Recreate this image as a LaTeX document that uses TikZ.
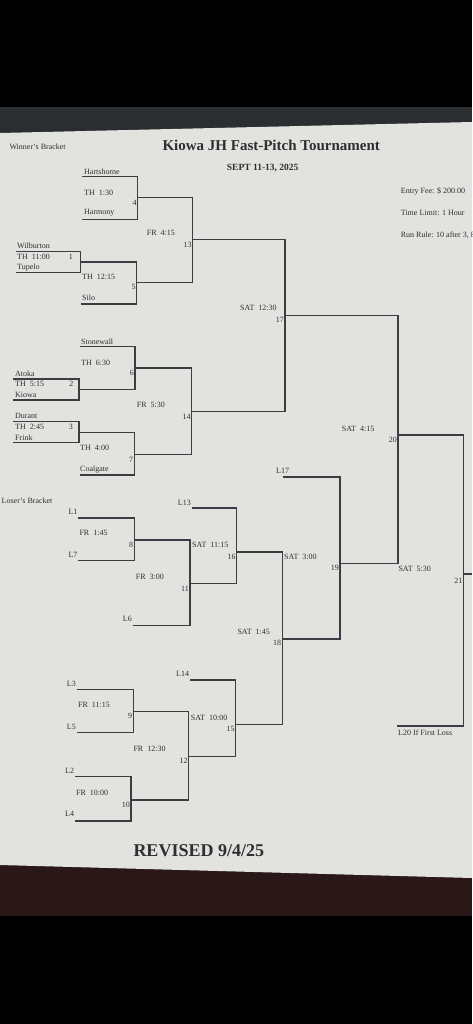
\documentclass[tikz,border=0pt]{standalone}
\usepackage{fontspec}
\setmainfont{Liberation Serif}
\definecolor{paperc}{HTML}{E2E3DE}
\definecolor{txtc}{HTML}{2E2E33}
\definecolor{linec}{HTML}{3C3C44}
\definecolor{stripc}{HTML}{2A2E30}
\definecolor{brownc}{HTML}{2A1819}
\begin{document}
\begin{tikzpicture}[x=1pt,y=-1pt,
  br/.style={draw=linec, line width=1.1pt},
  lbl/.style={font=\fontsize{8}{9}\selectfont, text=txtc, inner sep=0pt, anchor=west},
  num/.style={font=\fontsize{8}{9}\selectfont, text=txtc, inner sep=0pt, anchor=east},
]
\useasboundingbox (0,0) rectangle (472,1024);
% photo background
\fill[black] (0,0) rectangle (472,1024);
\fill[stripc] (0,107) rectangle (472,136);
\fill[brownc] (0,858) rectangle (472,916);
\fill[paperc] (0,133) -- (472,122) -- (472,878) -- (0,865) -- cycle;

% headers
\node[lbl] (hwb) at (9.3,146.7) {Winner's Bracket};
\node[anchor=west, inner sep=0pt, text=txtc, font=\bfseries\fontsize{15}{17}\selectfont] (title) at (162.3,145.7) {Kiowa JH Fast-Pitch Tournament};
\node[anchor=west, inner sep=0pt, text=txtc, font=\bfseries\fontsize{9.5}{11}\selectfont] (date) at (226.7,168.3) {SEPT 11-13, 2025};
\node[lbl] (fee) at (400.7,191) {Entry Fee: \$ 200.00};
\node[lbl] (tlim) at (400.7,212.7) {Time Limit: 1 Hour};
\node[lbl] (rrule) at (400.7,235) {Run Rule: 10 after 3, 8};
\node[lbl] (hlb) at (1.5,501) {Loser's Bracket};
\node[anchor=west, inner sep=0pt, text=txtc, font=\bfseries\fontsize{18}{20}\selectfont] (rev) at (133.3,851) {REVISED 9/4/25};

% ---------- winner's bracket coordinates ----------
\coordinate (w1a) at (15.7,251.3); \coordinate (w1b) at (15.7,272.7); \coordinate (g1) at (80.7,262);
\coordinate (g5) at (136.7,282.7); \coordinate (w5b) at (80.7,304);
\coordinate (w4a) at (82,176.7); \coordinate (w4b) at (82,219.3); \coordinate (g4) at (137.7,197.7);
\coordinate (g13) at (192.7,239.3);
\coordinate (w2a) at (13.3,379); \coordinate (w2b) at (13.3,400); \coordinate (g2) at (79,389.7);
\coordinate (w6a) at (80,346.7); \coordinate (g6) at (135,368);
\coordinate (w3a) at (13.3,421.7); \coordinate (w3b) at (13.3,442.7); \coordinate (g3) at (79,432.3);
\coordinate (g7) at (134.3,454.3); \coordinate (w7b) at (80,475);
\coordinate (g14) at (191.7,411.3);
\coordinate (g17) at (285,315.7);
\coordinate (g20) at (398,435);
\coordinate (g21) at (463.5,574); \coordinate (l21b) at (397,726); \coordinate (out21) at (472,574);

% ---------- loser's bracket coordinates ----------
\coordinate (l8a) at (78.3,518); \coordinate (l8b) at (78.3,560.3); \coordinate (g8) at (134.3,540);
\coordinate (g11) at (190,583.3); \coordinate (l11b) at (133.3,625.7);
\coordinate (l16a) at (191.7,508); \coordinate (g16) at (236.7,552);
\coordinate (l9a) at (76.7,689.3); \coordinate (l9b) at (76.7,732.7); \coordinate (g9) at (133.3,711.3);
\coordinate (l10a) at (75,776.3); \coordinate (l10b) at (75,821); \coordinate (g10) at (131,800);
\coordinate (g12) at (188.7,756.3);
\coordinate (l15a) at (190,680); \coordinate (g15) at (235.7,724.3);
\coordinate (g18) at (282.3,639);
\coordinate (l19a) at (283.3,477); \coordinate (g19) at (340,563.3);

% ---------- bracket lines ----------
\draw[br] (w1a) -| (g1) |- (w1b);
\draw[br] (g1) -| (g5) |- (w5b);
\draw[br] (w4a) -| (g4) |- (w4b);
\draw[br] (g4) -| (g13) |- (g5);
\draw[br] (w2a) -| (g2) |- (w2b);
\draw[br] (w6a) -| (g6) |- (g2);
\draw[br] (w3a) -| (g3) |- (w3b);
\draw[br] (g3) -| (g7) |- (w7b);
\draw[br] (g6) -| (g14) |- (g7);
\draw[br] (g13) -| (g17) |- (g14);
\draw[br] (g17) -| (g20) |- (g19);
\draw[br] (g20) -| (g21) |- (l21b);
\draw[br] (g21) -- (out21);

\draw[br] (l8a) -| (g8) |- (l8b);
\draw[br] (g8) -| (g11) |- (l11b);
\draw[br] (l16a) -| (g16) |- (g11);
\draw[br] (l9a) -| (g9) |- (l9b);
\draw[br] (l10a) -| (g10) |- (l10b);
\draw[br] (g9) -| (g12) |- (g10);
\draw[br] (l15a) -| (g15) |- (g12);
\draw[br] (g16) -| (g18) |- (g15);
\draw[br] (l19a) -| (g19) |- (g18);

% ---------- winner's bracket texts ----------
\node[lbl] (tHart) at (84,172) {Hartshorne};
\node[lbl] (tTH130) at (84,192.7) {TH\ \ 1:30};
\node[lbl] (tHarm) at (84,213) {Harmony};
\node[num] (n4) at (136.8,202.5) {4};
\node[lbl] (tFR415) at (146.7,233) {FR\ \ 4:15};
\node[num] (n13) at (191.8,244.5) {13};
\node[lbl] (tWilb) at (17,246) {Wilburton};
\node[lbl] (tTH1100) at (17,257.3) {TH\ \ 11:00};
\node[num] (n1) at (73,257.3) {1};
\node[lbl] (tTup) at (17,267.3) {Tupelo};
\node[lbl] (tTH1215) at (82,277.3) {TH\ \ 12:15};
\node[num] (n5) at (135.8,287) {5};
\node[lbl] (tSilo) at (82,297.7) {Silo};
\node[lbl] (tSAT1230) at (240,308.3) {SAT\ \ 12:30};
\node[num] (n17) at (284,320) {17};
\node[lbl] (tStone) at (81,341.3) {Stonewall};
\node[lbl] (tTH630) at (81,362.7) {TH\ \ 6:30};
\node[num] (n6) at (134.1,373) {6};
\node[lbl] (tAtoka) at (15,373.3) {Atoka};
\node[lbl] (tTH515) at (15,384.3) {TH\ \ 5:15};
\node[num] (n2) at (73.5,384.3) {2};
\node[lbl] (tKiowa) at (15,394.7) {Kiowa};
\node[lbl] (tFR530) at (136.7,405.3) {FR\ \ 5:30};
\node[num] (n14) at (190.8,417) {14};
\node[lbl] (tDurant) at (15,416) {Durant};
\node[lbl] (tTH245) at (15,427.3) {TH\ \ 2:45};
\node[num] (n3) at (73,427.3) {3};
\node[lbl] (tFrink) at (15,437.3) {Frink};
\node[lbl] (tTH400) at (80,448) {TH\ \ 4:00};
\node[num] (n7) at (133.4,459.5) {7};
\node[lbl] (tCoal) at (80,470) {Coalgate};
\node[lbl] (tSAT415) at (341.7,428.7) {SAT\ \ 4:15};
\node[num] (n20) at (397,440) {20};
\node[lbl] (tSAT530) at (398.3,569) {SAT\ \ 5:30};
\node[num] (n21) at (462.6,581) {21};
\node[lbl] (tL20) at (398,732.7) {L20 If First Loss};

% ---------- loser's bracket texts ----------
\node[lbl] (tL1) at (68.3,512.3) {L1};
\node[lbl] (tFR145) at (79.3,533.3) {FR\ \ 1:45};
\node[num] (n8) at (133.4,545) {8};
\node[lbl] (tL7) at (68.3,554.7) {L7};
\node[lbl] (tFR300) at (135.7,577.3) {FR\ \ 3:00};
\node[num] (n11) at (189.1,588.5) {11};
\node[lbl] (tL6) at (122.7,619.3) {L6};
\node[lbl] (tL13) at (177.7,502.7) {L13};
\node[lbl] (tSAT1115) at (192,545.3) {SAT\ \ 11:15};
\node[num] (n16) at (235.8,556.5) {16};
\node[lbl] (tL17) at (276,471) {L17};
\node[lbl] (tSAT300) at (284,556.7) {SAT\ \ 3:00};
\node[num] (n19) at (339.1,568) {19};
\node[lbl] (tSAT145) at (237.3,632) {SAT\ \ 1:45};
\node[num] (n18) at (281.4,643) {18};
\node[lbl] (tL14) at (176,674.3) {L14};
\node[lbl] (tL3) at (66.7,683.7) {L3};
\node[lbl] (tFR1115) at (78,705) {FR\ \ 11:15};
\node[num] (n9) at (132.4,716.3) {9};
\node[lbl] (tL5) at (66.7,726.7) {L5};
\node[lbl] (tSAT1000) at (190.7,718) {SAT\ \ 10:00};
\node[num] (n15) at (234.8,729.3) {15};
\node[lbl] (tFR1230) at (133.3,749) {FR\ \ 12:30};
\node[num] (n12) at (187.8,761.3) {12};
\node[lbl] (tL2) at (65,771) {L2};
\node[lbl] (tFR1000) at (76,793) {FR\ \ 10:00};
\node[num] (n10) at (130.1,805) {10};
\node[lbl] (tL4) at (65,814) {L4};
\end{tikzpicture}
\end{document}
